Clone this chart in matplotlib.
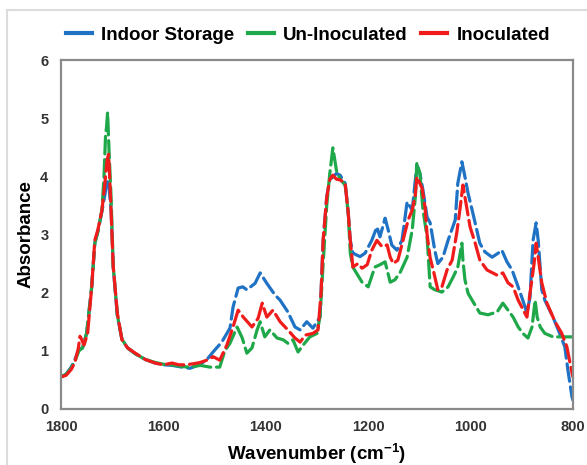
import matplotlib

matplotlib.use("Agg")

import matplotlib.pyplot as plt
from matplotlib.lines import Line2D
from matplotlib.patches import Rectangle

# Indoor Storage (blue)
indoor_wn = [1800, 1790, 1780, 1773, 1765, 1758, 1750, 1740, 1734, 1728, 1720, 1714, 1710, 1706, 1702,
             1698, 1690, 1681, 1670, 1655, 1635, 1616, 1600, 1583, 1564, 1548, 1530, 1515, 1503, 1486,
             1470, 1464, 1454, 1445, 1437, 1421, 1411, 1398, 1382, 1372, 1357, 1343, 1333, 1320, 1308,
             1294, 1288, 1281, 1275, 1270, 1262, 1255, 1245, 1239, 1235, 1230, 1216, 1206, 1193, 1183,
             1177, 1167, 1161, 1154, 1144, 1134, 1124, 1114, 1105, 1099, 1093, 1085, 1079, 1070, 1064,
             1054, 1044, 1030, 1025, 1017, 1011, 1005, 997, 988, 982, 972, 958, 946, 939, 929,
             919, 910, 898, 890, 884, 878, 872, 868, 861, 855, 839, 826, 816, 810, 802, 800]
indoor_abs = [0.55, 0.60, 0.72, 0.85, 1.02, 1.05, 1.30, 2.10, 2.85, 3.05, 3.40, 3.70, 3.94, 3.80, 3.40,
              2.45, 1.60, 1.20, 1.05, 0.95, 0.85, 0.79, 0.76, 0.75, 0.72, 0.70, 0.76, 0.85, 0.98, 1.15,
              1.39, 1.75, 2.08, 2.10, 2.05, 2.16, 2.34, 2.16, 1.96, 1.87, 1.67, 1.41, 1.36, 1.50, 1.39,
              1.58, 2.90, 3.64, 3.95, 3.98, 4.05, 4.02, 3.88, 3.37, 2.90, 2.68, 2.62, 2.68, 2.90, 3.13,
              2.96, 3.28, 3.08, 2.82, 2.73, 2.90, 3.56, 3.42, 4.19, 4.05, 3.76, 3.30, 3.20, 2.73, 2.50,
              2.61, 2.90, 3.25, 3.88, 4.25, 3.99, 3.71, 3.42, 3.08, 2.85, 2.70, 2.61, 2.68, 2.73, 2.53,
              2.39, 2.17, 1.87, 1.65, 1.92, 2.90, 3.20, 2.90, 2.05, 1.87, 1.58, 1.30, 1.07, 0.67, 0.21, 0.15]

# Un-Inoculated (green)
uninoc_wn = [1800, 1790, 1780, 1773, 1765, 1758, 1750, 1740, 1734, 1728, 1720, 1716, 1713, 1711, 1709,
             1706, 1702, 1698, 1690, 1681, 1670, 1655, 1635, 1616, 1600, 1583, 1564, 1548, 1528, 1509,
             1490, 1480, 1470, 1456, 1446, 1437, 1427, 1417, 1411, 1402, 1392, 1378, 1366, 1357, 1347,
             1337, 1327, 1314, 1300, 1294, 1288, 1281, 1275, 1269, 1262, 1255, 1245, 1239, 1235, 1230,
             1212, 1200, 1187, 1177, 1167, 1157, 1148, 1138, 1124, 1114, 1108, 1105, 1099, 1093, 1085,
             1079, 1070, 1056, 1044, 1034, 1025, 1017, 1015, 1011, 1005, 997, 982, 966, 948, 937,
             927, 917, 907, 898, 888, 880, 874, 870, 864, 855, 839, 820, 800]
uninoc_abs = [0.55, 0.60, 0.70, 0.82, 1.00, 1.05, 1.30, 2.10, 2.85, 3.05, 3.42, 4.00, 4.70, 4.85, 5.10,
              4.40, 3.60, 2.45, 1.62, 1.20, 1.05, 0.95, 0.85, 0.80, 0.77, 0.76, 0.73, 0.72, 0.75, 0.72,
              0.72, 1.00, 1.13, 1.41, 1.22, 0.96, 1.05, 1.36, 1.50, 1.24, 1.36, 1.22, 1.19, 1.13, 1.19,
              0.98, 1.10, 1.24, 1.30, 1.60, 2.50, 3.50, 4.05, 4.49, 4.10, 3.95, 3.85, 3.37, 2.68, 2.44,
              2.18, 2.10, 2.44, 2.48, 2.53, 2.18, 2.22, 2.34, 2.61, 3.08, 3.64, 4.23, 4.05, 3.42, 2.96,
              2.10, 2.05, 2.01, 2.10, 2.27, 2.44, 2.85, 2.56, 2.22, 1.99, 1.87, 1.65, 1.62, 1.67, 1.82,
              1.70, 1.58, 1.41, 1.30, 1.22, 1.41, 1.87, 1.58, 1.41, 1.30, 1.24, 1.24, 1.24]

# Inoculated (red)
inoc_wn = [1800, 1790, 1780, 1773, 1766, 1763, 1760, 1755, 1748, 1740, 1734, 1728, 1720, 1714, 1710,
           1707, 1704, 1698, 1690, 1681, 1670, 1655, 1635, 1616, 1600, 1583, 1570, 1555, 1540, 1528,
           1515, 1503, 1490, 1476, 1464, 1454, 1444, 1427, 1415, 1407, 1398, 1386, 1372, 1357, 1343,
           1333, 1323, 1308, 1298, 1292, 1288, 1281, 1275, 1269, 1262, 1255, 1245, 1239, 1235, 1230,
           1220, 1212, 1202, 1193, 1183, 1173, 1163, 1157, 1151, 1142, 1132, 1122, 1114, 1108, 1105,
           1095, 1089, 1085, 1079, 1073, 1064, 1056, 1046, 1036, 1027, 1021, 1015, 1011, 1001, 991,
           982, 968, 948, 937, 927, 917, 907, 890, 884, 876, 872, 868, 861, 851, 835,
           822, 812, 802, 800]
inoc_abs = [0.55, 0.58, 0.68, 0.80, 1.05, 1.25, 1.20, 1.10, 1.30, 2.10, 2.90, 3.08, 3.42, 3.90, 4.28,
            4.38, 3.80, 2.45, 1.65, 1.19, 1.05, 0.96, 0.85, 0.79, 0.76, 0.79, 0.76, 0.76, 0.78, 0.80,
            0.84, 0.90, 0.84, 1.10, 1.41, 1.70, 1.58, 1.41, 1.56, 1.82, 1.58, 1.70, 1.50, 1.36, 1.22,
            1.15, 1.27, 1.30, 1.36, 2.00, 2.90, 3.64, 3.95, 4.02, 3.95, 3.94, 3.88, 3.37, 2.90, 2.44,
            2.50, 2.42, 2.48, 2.73, 2.90, 2.79, 2.82, 2.61, 2.50, 2.56, 2.90, 3.25, 3.42, 3.68, 3.99,
            3.80, 3.47, 3.00, 2.60, 2.39, 2.05, 2.10, 2.39, 2.56, 3.03, 3.42, 3.85, 3.64, 3.13, 2.85,
            2.56, 2.39, 2.30, 2.34, 2.17, 2.10, 1.87, 1.58, 1.99, 2.50, 2.85, 2.61, 2.17, 1.82, 1.50,
            1.30, 1.07, 0.62, 0.55]

series = [
    ("Indoor Storage", indoor_wn, indoor_abs, "#1f72c4"),
    ("Un-Inoculated",  uninoc_wn, uninoc_abs, "#1fa84a"),
    ("Inoculated",     inoc_wn,   inoc_abs,   "#f01c1c"),
]

plt.rcParams["font.family"] = ["Liberation Sans", "DejaVu Sans"]
plt.rcParams["mathtext.fontset"] = "custom"
plt.rcParams["mathtext.rm"] = "Liberation Sans:bold"
plt.rcParams["mathtext.bf"] = "Liberation Sans:bold"

figure = plt.figure(figsize=(5.87, 4.65), dpi=100)
figure.patches.append(Rectangle((7 / 587, -0.1), 1.0, (455 / 465) + 0.1, transform=figure.transFigure,
                                fill=False, edgecolor="#dcdcdc", linewidth=1.5))

axis = figure.add_axes([61 / 587, 1 - 409 / 465, 512 / 587, 349 / 465])
for name, wn, values, color in series:
    axis.plot(wn, values, color=color, linewidth=2.3, dashes=(5.5, 1.8), solid_capstyle="round",
              dash_capstyle="round")

axis.set_xlim(1800, 800)
axis.set_ylim(0, 6)
axis.set_xticks([1800, 1600, 1400, 1200, 1000, 800])
axis.set_yticks([0, 1, 2, 3, 4, 5, 6])
axis.tick_params(axis="x", length=0, pad=8, labelsize=10.5, labelcolor="#333333")
axis.tick_params(axis="y", length=0, pad=9, labelsize=10.5, labelcolor="#333333")
for label in axis.get_xticklabels() + axis.get_yticklabels():
    label.set_fontweight("bold")
for spine in axis.spines.values():
    spine.set_color("#8a8a8a")
    spine.set_linewidth(1.6)

axis.set_xlabel("Wavenumber (cm$^{-1}$)", fontsize=13.5, fontweight="bold", labelpad=5)
axis.set_ylabel("Absorbance", fontsize=13.5, fontweight="bold", labelpad=4)

handles = [Line2D([0], [0], color=color, linewidth=3) for _, _, _, color in series]
figure.legend(handles, [name for name, *_ in series], loc="center", bbox_to_anchor=(308 / 587, 1 - 35 / 465),
              ncol=3, frameon=False, prop={"weight": "bold", "size": 13.5}, handlelength=1.4,
              handletextpad=0.5, columnspacing=0.7)

figure.savefig("out.png", dpi=100)
